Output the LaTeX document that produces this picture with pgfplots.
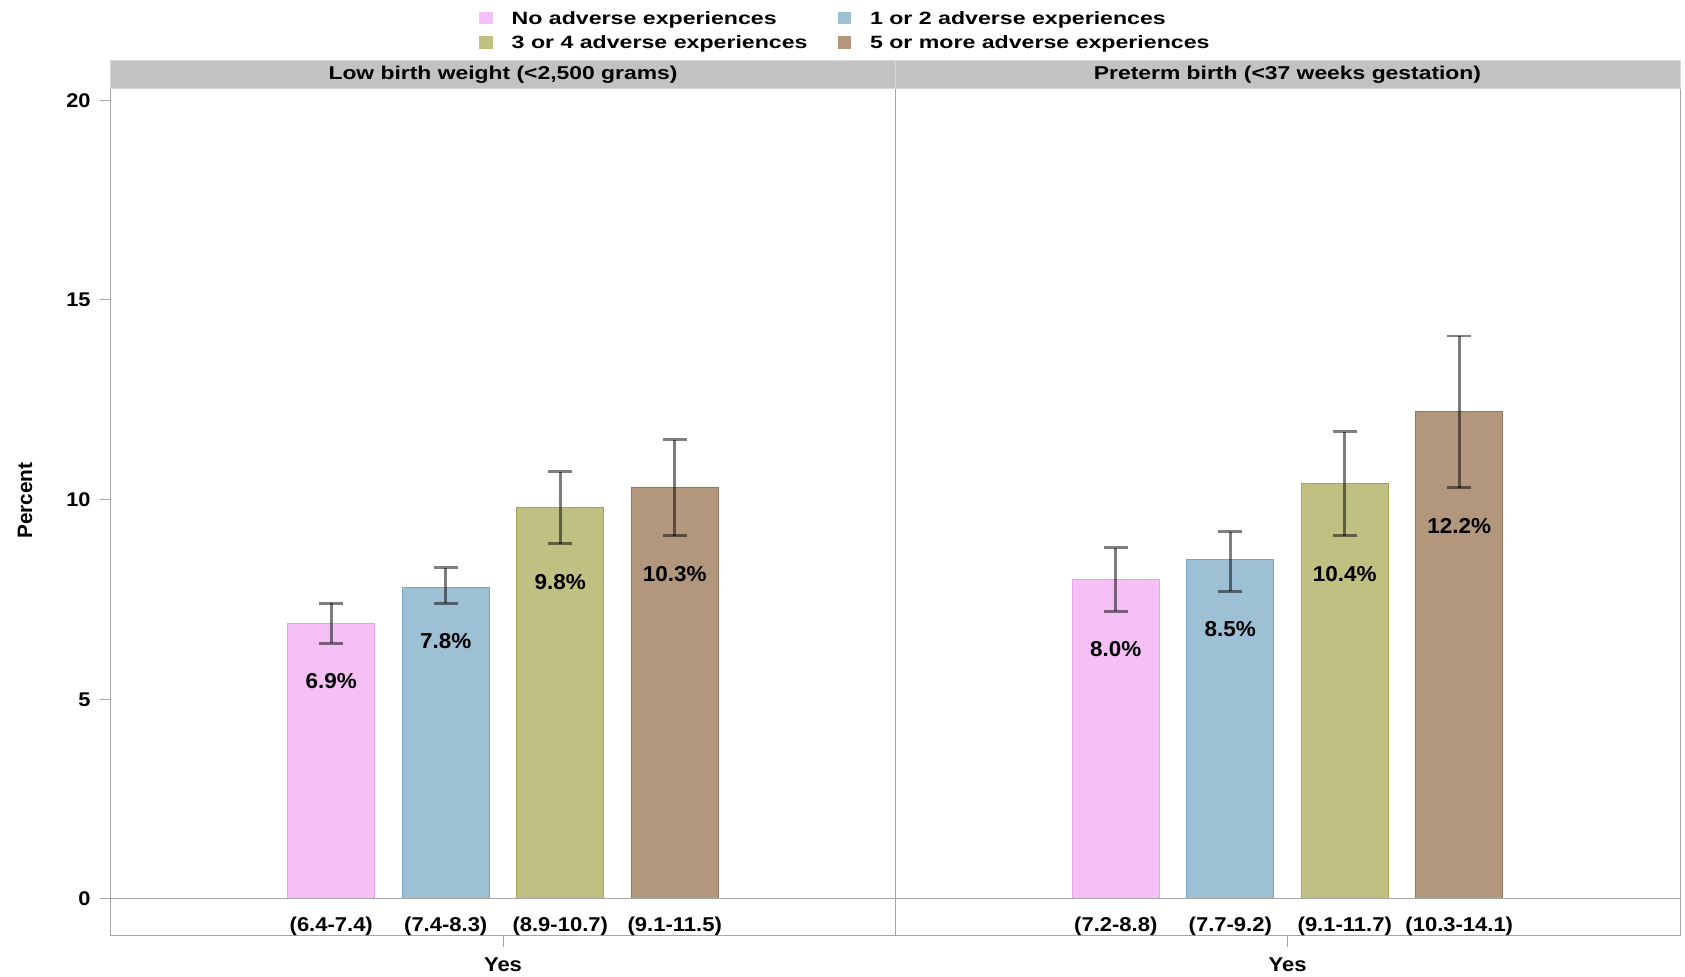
\documentclass[border=0pt]{standalone}
\usepackage{fontspec}
\setmainfont{Liberation Sans}
\newfontfamily\legfont[FakeStretch=1.30]{Liberation Sans}
\newfontfamily\headfont[FakeStretch=1.23]{Liberation Sans}
\newfontfamily\tickfont[FakeStretch=1.10]{Liberation Sans}
\newfontfamily\valfont[FakeStretch=1.04]{Liberation Sans}
\usepackage{pgfplots}
\usepackage{pgfplotstable}
\pgfplotsset{compat=1.18}

\definecolor{pinkF}{HTML}{F5C0F5}
\definecolor{pinkE}{HTML}{E8A2E8}
\definecolor{blueF}{HTML}{9DC0D4}
\definecolor{blueE}{HTML}{78A7C3}
\definecolor{oliveF}{HTML}{C0C083}
\definecolor{oliveE}{HTML}{A5A55C}
\definecolor{brownF}{HTML}{B3977D}
\definecolor{brownE}{HTML}{957659}
\definecolor{framegray}{HTML}{A6A6A6}
\definecolor{headgray}{HTML}{C2C2C2}
\definecolor{headline}{HTML}{D8D8D8}

% Percent with 95% confidence interval; x = bar slot within the panel
\pgfplotstableread{
x    val  lo   hi
-1.5 6.9  6.4  7.4
-0.5 7.8  7.4  8.3
0.5  9.8  8.9  10.7
1.5  10.3 9.1  11.5
}\lbwdata
\pgfplotstableread{
x    val  lo   hi
-1.5 8.0  7.2  8.8
-0.5 8.5  7.7  9.2
0.5  10.4 9.1  11.7
1.5  12.2 10.3 14.1
}\ptbdata

\newcommand\tickfs{\tickfont\bfseries\fontsize{9.9}{12}\selectfont}
\newcommand\cifs{\tickfont\bfseries\fontsize{10}{12}\selectfont}

\tikzset{zeroline/.style={draw=framegray, line width=0.5pt}}

\pgfplotsset{
  row0/.style={skip coords between index={1}{99}},
  row1/.style={skip coords between index={0}{1}, skip coords between index={2}{99}},
  row2/.style={skip coords between index={0}{2}, skip coords between index={3}{99}},
  row3/.style={skip coords between index={0}{3}},
  catbar/.style 2 args={ybar, bar width=0.76, /pgf/bar shift=0pt,
    fill=#1, draw=#2, line width=0.5pt,
    error bars/y dir=both, error bars/y explicit,
    error bars/error bar style={draw=black, draw opacity=0.5, line width=1.3pt},
    error bars/error mark options={rotate=90, draw=black, draw opacity=0.5, line width=1.3pt, mark size=6pt}},
  vallabels/.style={draw=none, forget plot, point meta=explicit,
    nodes near coords={\pgfmathprintnumber[fixed, fixed zerofill, precision=1]{\pgfplotspointmeta}\%},
    nodes near coords style={anchor=base, yshift=-22.75pt, inner sep=0pt, text=black,
      font=\valfont\bfseries\fontsize{10.8}{12}\selectfont}},
  panel/.style={
    scale only axis, height=423.85pt,
    ymin=-0.927, ymax=20.30,
    clip=false,
    /pgf/number format/assume math mode=true,
    axis line style={draw=framegray, line width=0.5pt},
    tick align=outside, tick pos=left, major tick length=5.5pt,
    tick style={draw=framegray, line width=0.5pt},
    xtick={0}, xticklabels={},
    extra x tick style={major tick length=0pt,
      xticklabel style={anchor=base, inner sep=0pt, yshift=2.15pt, font=\cifs}},
    xlabel={Yes},
    xlabel style={at={(axis description cs:0.5,0)}, anchor=base, inner sep=0pt,
      yshift=-17.85pt, font=\cifs},
  },
}

\begin{document}
\begin{tikzpicture}
\useasboundingbox (-55.5pt,-20.5pt) rectangle (787pt,468pt);

% Low birth weight panel
\begin{axis}[panel,
  width=392pt, xmin=-3.4236, xmax=3.4236,
  ytick={0,5,10,15,20},
  yticklabel style={anchor=east, inner sep=0pt, xshift=-4.5pt, font=\tickfs},
  ylabel={Percent},
  ylabel style={at={(axis description cs:-0.1097,0.5135)}, anchor=center,
    inner sep=0pt, font=\bfseries\fontsize{10.4}{12}\selectfont},
  extra x ticks={-1.5,-0.5,0.5,1.5},
  extra x tick labels={(6.4-7.4),(7.4-8.3),(8.9-10.7),(9.1-11.5)},
  legend columns=2,
  legend cell align=left,
  legend image code/.code={\fill[#1, draw=none] (0pt,0pt) rectangle (6.7pt,6.1pt);},
  legend style={at={(0.4698,1.0906)}, anchor=north west, draw=none, fill=none,
    inner sep=0pt, outer sep=0pt, row sep=3.85pt,
    font=\legfont\bfseries\fontsize{8.9}{10}\selectfont,
    nodes={anchor=base west, inner sep=0pt, text height=6.4pt, text depth=1.9pt},
    /tikz/every odd column/.append style={column sep=9.5pt},
    /tikz/every even column/.append style={column sep=15pt}},
]
\addplot[catbar={pinkF}{pinkE}, row0] table[x=x, y=val,
  y error plus expr=\thisrow{hi}-\thisrow{val}, y error minus expr=\thisrow{val}-\thisrow{lo}] {\lbwdata};
\addplot[catbar={blueF}{blueE}, row1] table[x=x, y=val,
  y error plus expr=\thisrow{hi}-\thisrow{val}, y error minus expr=\thisrow{val}-\thisrow{lo}] {\lbwdata};
\addplot[catbar={oliveF}{oliveE}, row2] table[x=x, y=val,
  y error plus expr=\thisrow{hi}-\thisrow{val}, y error minus expr=\thisrow{val}-\thisrow{lo}] {\lbwdata};
\addplot[catbar={brownF}{brownE}, row3] table[x=x, y=val,
  y error plus expr=\thisrow{hi}-\thisrow{val}, y error minus expr=\thisrow{val}-\thisrow{lo}] {\lbwdata};
\addplot[vallabels] table[x=x, y=lo, meta=val] {\lbwdata};
\legend{No adverse experiences, 1 or 2 adverse experiences, 3 or 4 adverse experiences, 5 or more adverse experiences}
\draw[zeroline] (axis cs:-3.4236,0) -- (axis cs:3.4236,0);
\filldraw[fill=headgray, draw=headline, line width=0.5pt] (rel axis cs:0,1) rectangle ([yshift=13.65pt]rel axis cs:1,1);
\node[anchor=base, inner sep=0pt, font=\headfont\bfseries\fontsize{9.3}{11}\selectfont]
  at ([yshift=4.15pt]rel axis cs:0.5,1) {Low birth weight (<2,500 grams)};
\end{axis}

% Preterm birth panel
\begin{axis}[panel, at={(392pt,0pt)},
  width=392.5pt, xmin=-3.428, xmax=3.428,
  ytick=\empty,
  extra x ticks={-1.5,-0.5,0.5,1.5},
  extra x tick labels={(7.2-8.8),(7.7-9.2),(9.1-11.7),(10.3-14.1)},
]
\addplot[catbar={pinkF}{pinkE}, row0] table[x=x, y=val,
  y error plus expr=\thisrow{hi}-\thisrow{val}, y error minus expr=\thisrow{val}-\thisrow{lo}] {\ptbdata};
\addplot[catbar={blueF}{blueE}, row1] table[x=x, y=val,
  y error plus expr=\thisrow{hi}-\thisrow{val}, y error minus expr=\thisrow{val}-\thisrow{lo}] {\ptbdata};
\addplot[catbar={oliveF}{oliveE}, row2] table[x=x, y=val,
  y error plus expr=\thisrow{hi}-\thisrow{val}, y error minus expr=\thisrow{val}-\thisrow{lo}] {\ptbdata};
\addplot[catbar={brownF}{brownE}, row3] table[x=x, y=val,
  y error plus expr=\thisrow{hi}-\thisrow{val}, y error minus expr=\thisrow{val}-\thisrow{lo}] {\ptbdata};
\addplot[vallabels] table[x=x, y=lo, meta=val] {\ptbdata};
\draw[zeroline] (axis cs:-3.428,0) -- (axis cs:3.428,0);
\filldraw[fill=headgray, draw=headline, line width=0.5pt] (rel axis cs:0,1) rectangle ([yshift=13.65pt]rel axis cs:1,1);
\node[anchor=base, inner sep=0pt, font=\headfont\bfseries\fontsize{9.3}{11}\selectfont]
  at ([yshift=4.15pt]rel axis cs:0.5,1) {Preterm birth (<37 weeks gestation)};
\end{axis}
\end{tikzpicture}
\end{document}
